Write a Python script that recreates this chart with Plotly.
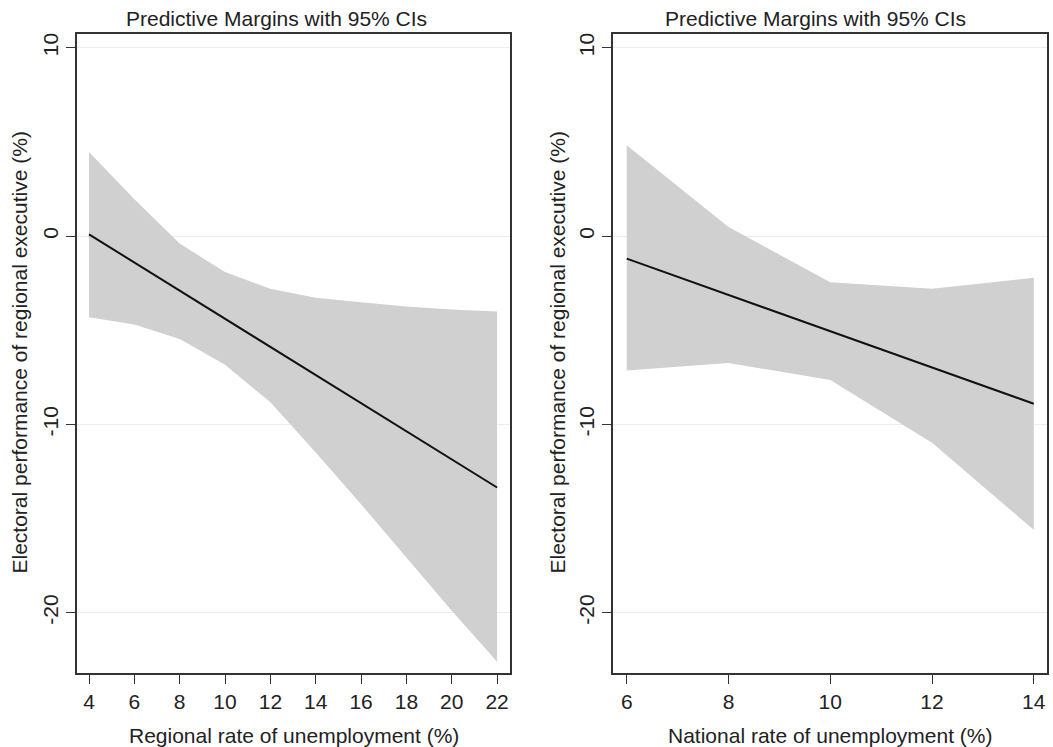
import plotly.graph_objects as go

# Left panel: regional rate of unemployment
reg_x = [4, 6, 8, 10, 12, 14, 16, 18, 20, 22]
reg_margin = [0.09, -1.40, -2.90, -4.39, -5.88, -7.38, -8.87, -10.36, -11.86, -13.35]
reg_upper = [4.47, 1.95, -0.40, -1.91, -2.80, -3.28, -3.51, -3.74, -3.90, -4.00]
reg_lower = [-4.31, -4.70, -5.46, -6.83, -8.83, -11.49, -14.24, -17.07, -19.90, -22.60]

# Right panel: national rate of unemployment
nat_x = [6, 8, 10, 12, 14]
nat_margin = [-1.20, -3.13, -5.05, -6.95, -8.90]
nat_upper = [4.82, 0.48, -2.45, -2.80, -2.21]
nat_lower = [-7.14, -6.74, -7.64, -10.97, -15.60]

y_ticks = [-20, -10, 0, 10]
y_ticklabels = ["-20", "-10", "0", "10"]
title_text = "Predictive Margins with 95% CIs"
ytitle = "Electoral performance of regional executive (%)"
xtitle_left = "Regional rate of unemployment (%)"
xtitle_right = "National rate of unemployment (%)"

FONT = "Liberation Sans, Arial, sans-serif"
W, H = 1053, 747
band = "#d0d0d0"
TXT = "#222222"

fig = go.Figure()

def add_panel(x, mid, up, lo, xa, ya):
    fig.add_trace(go.Scatter(
        x=list(x) + list(x)[::-1], y=list(up) + list(lo)[::-1],
        fill="toself", fillcolor=band, line=dict(width=0), mode="lines",
        hoverinfo="skip", showlegend=False, xaxis=xa, yaxis=ya))
    fig.add_trace(go.Scatter(
        x=x, y=mid, mode="lines", line=dict(color="#111111", width=2),
        showlegend=False, xaxis=xa, yaxis=ya))

add_panel(reg_x, reg_margin, reg_upper, reg_lower, "x", "y")
add_panel(nat_x, nat_margin, nat_upper, nat_lower, "x2", "y2")

def px_x(p):
    return p / W

def px_y(p):
    return 1 - p / H

axis_common = dict(
    showline=True, linecolor="#333333", linewidth=1.5, mirror=True,
    ticks="outside", ticklen=9, tickwidth=1.3, tickcolor="#333333",
    tickfont=dict(family=FONT, size=21, color=TXT),
    zeroline=False,
)

fig.update_layout(
    width=W, height=H,
    margin=dict(l=0, r=0, t=0, b=0),
    paper_bgcolor="white", plot_bgcolor="white",
    font=dict(family=FONT, color=TXT),
    xaxis=dict(domain=[px_x(77), px_x(510)], range=[3.47, 22.57],
               tickvals=reg_x, showgrid=False, anchor="y", **axis_common),
    yaxis=dict(domain=[px_y(673), px_y(34)], range=[-23.2, 10.73],
               tickvals=y_ticks, ticktext=y_ticklabels, tickangle=-90, showgrid=True,
               gridcolor="#ececec", gridwidth=1.3, anchor="x", **axis_common),
    xaxis2=dict(domain=[px_x(613), px_x(1047)], range=[5.73, 14.26],
                tickvals=nat_x, showgrid=False, anchor="y2", **axis_common),
    yaxis2=dict(domain=[px_y(673), px_y(34)], range=[-23.2, 10.73],
                tickvals=y_ticks, ticktext=y_ticklabels, tickangle=-90, showgrid=True,
                gridcolor="#ececec", gridwidth=1.3, anchor="x2", **axis_common),
)

ann = []
for cx in (276.5, 815):
    ann.append(dict(text=title_text, x=px_x(cx), y=px_y(19), xref="paper", yref="paper",
                    showarrow=False, xanchor="center", yanchor="middle",
                    font=dict(family=FONT, size=21, color=TXT)))
for cx, t in ((293.5, xtitle_left), (830, xtitle_right)):
    ann.append(dict(text=t, x=px_x(cx), y=px_y(735), xref="paper", yref="paper",
                    showarrow=False, xanchor="center", yanchor="middle",
                    font=dict(family=FONT, size=21, color=TXT)))
for cx in (19, 557):
    ann.append(dict(text=ytitle, x=px_x(cx), y=px_y(352.5), xref="paper", yref="paper",
                    showarrow=False, xanchor="center", yanchor="middle", textangle=-90,
                    font=dict(family=FONT, size=21, color=TXT)))
fig.update_layout(annotations=ann)

fig.write_html("out.html", config={"displayModeBar": False},
               post_script="document.body.style.margin='0';document.body.style.padding='0';")
